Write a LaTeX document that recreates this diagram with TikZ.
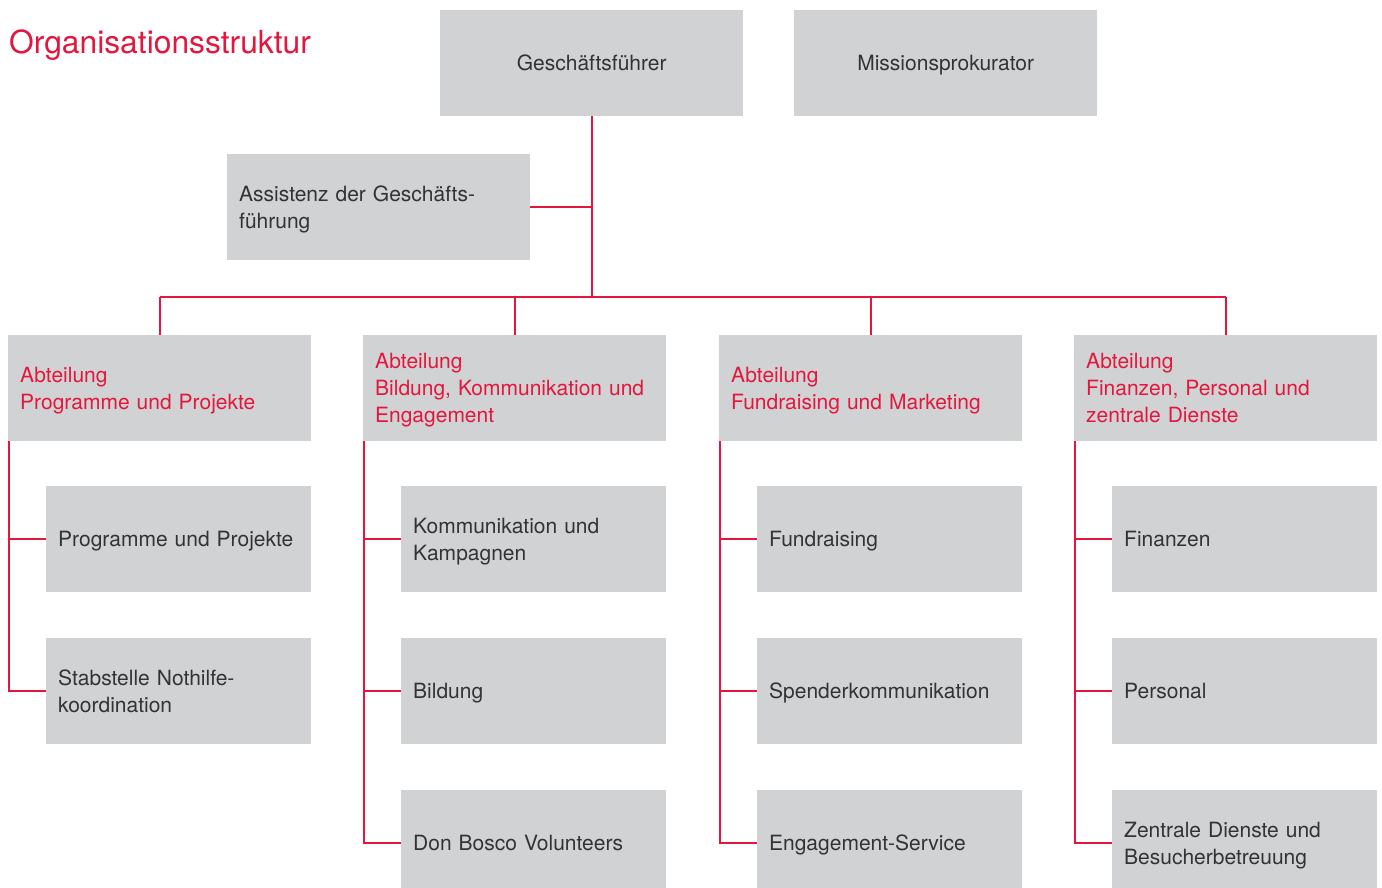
\documentclass[tikz,border=0pt]{standalone}
\usepackage{fontspec}
\setmainfont{TeX Gyre Heros}
\definecolor{dbred}{HTML}{E3173E}
\definecolor{boxgray}{HTML}{D1D2D4}
\definecolor{txtgray}{HTML}{333333}
\begin{document}
\begin{tikzpicture}[x=1pt,y=-1pt,
  box/.style={fill=boxgray,draw=none,rectangle,anchor=north west,
    minimum height=106pt,inner xsep=12pt,inner ysep=0pt,align=left,
    font=\fontsize{21}{27}\selectfont,text=txtgray,
    execute at begin node=\rule{0pt}{22.9pt},execute at end node=\strut},
  bigbox/.style={box,minimum width=303pt,text width=279pt},
  subbox/.style={box,minimum width=265pt,text width=241pt},
  dept/.style={bigbox,text=dbred},
  topbox/.style={bigbox,align=center},
  link/.style={draw=dbred,line width=1.8pt}]
\useasboundingbox (0,0) rectangle (1382,888);
\fill[white] (0,0) rectangle (1382,888);

\node[anchor=base west,text=dbred,font=\fontsize{31.8}{36}\selectfont,inner sep=0pt] (title) at (9,54) {Organisationsstruktur};

% top level
\node[topbox] (gf) at (440,10) {Geschäftsführer};
\node[topbox] (mp) at (794,10) {Missionsprokurator};
\node[bigbox] (ass) at (227,154) {Assistenz der Geschäfts-\\führung};

% departments
\node[dept] (d1) at (8,335) {Abteilung\\Programme und Projekte};
\node[dept] (d2) at (363,335) {Abteilung\\Bildung, Kommunikation und\\Engagement};
\node[dept] (d3) at (719,335) {Abteilung\\Fundraising und Marketing};
\node[dept] (d4) at (1074,335) {Abteilung\\Finanzen, Personal und\\zentrale Dienste};

% units
\node[subbox] (s11) at (46,486) {Programme und Projekte};
\node[subbox] (s12) at (46,638) {Stabstelle Nothilfe-\\koordination};
\node[subbox] (s21) at (401,486) {Kommunikation und\\Kampagnen};
\node[subbox] (s22) at (401,638) {Bildung};
\node[subbox] (s23) at (401,790) {Don Bosco Volunteers};
\node[subbox] (s31) at (757,486) {Fundraising};
\node[subbox] (s32) at (757,638) {Spenderkommunikation};
\node[subbox] (s33) at (757,790) {Engagement-Service};
\node[subbox] (s41) at (1112,486) {Finanzen};
\node[subbox] (s42) at (1112,638) {Personal};
\node[subbox] (s43) at (1112,790) {Zentrale Dienste und\\Besucherbetreuung};

% connectors
\coordinate (bus) at (gf.south |- 0,297);
\draw[link] (gf.south) -- (bus);
\draw[link] (ass.east) -- (ass.east -| bus);
\draw[link] (d1.north |- bus) -- (d4.north |- bus);
\foreach \d in {d1,d2,d3,d4} \draw[link] (\d.north |- bus) -- (\d.north);

\draw[link] ([xshift=1pt]d1.south west) |- (s12.west);
\draw[link] ([xshift=1pt]d1.south west) |- (s11.west);
\foreach \d/\a/\b/\c in {d2/s21/s22/s23,d3/s31/s32/s33,d4/s41/s42/s43}{
  \draw[link] ([xshift=1pt]\d.south west) |- (\c.west);
  \draw[link] ([xshift=1pt]\d.south west) |- (\b.west);
  \draw[link] ([xshift=1pt]\d.south west) |- (\a.west);
}
\end{tikzpicture}
\end{document}
